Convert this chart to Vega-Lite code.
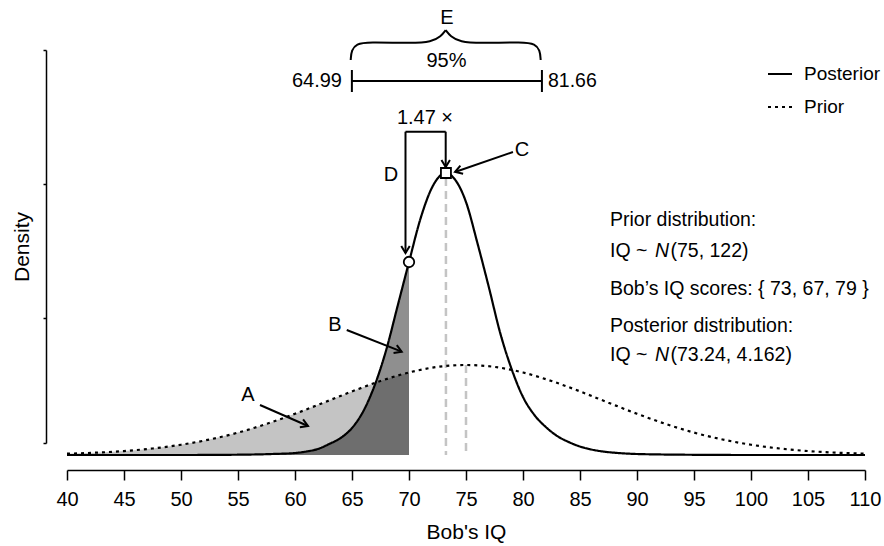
{
  "$schema": "https://vega.github.io/schema/vega-lite/v6.json",
  "width": 798,
  "height": 393,
  "autosize": {"type": "none"},
  "padding": {"left": 67, "top": 50, "right": 19, "bottom": 103},
  "background": "white",
  "config": {"view": {"stroke": null}, "font": "Liberation Sans"},
  "datasets": {
    "curves": [
      {"dist": "Posterior", "x": 40, "y": 0},
      {"dist": "Posterior", "x": 45, "y": 0},
      {"dist": "Posterior", "x": 50, "y": 0},
      {"dist": "Posterior", "x": 55, "y": 0.00011},
      {"dist": "Posterior", "x": 58, "y": 0.00038},
      {"dist": "Posterior", "x": 60, "y": 0.00076},
      {"dist": "Posterior", "x": 61, "y": 0.00134},
      {"dist": "Posterior", "x": 62, "y": 0.00229},
      {"dist": "Posterior", "x": 63, "y": 0.0042},
      {"dist": "Posterior", "x": 64, "y": 0.00649},
      {"dist": "Posterior", "x": 65, "y": 0.01031},
      {"dist": "Posterior", "x": 66, "y": 0.01679},
      {"dist": "Posterior", "x": 67, "y": 0.02672},
      {"dist": "Posterior", "x": 68, "y": 0.04008},
      {"dist": "Posterior", "x": 69, "y": 0.05687},
      {"dist": "Posterior", "x": 70, "y": 0.07366},
      {"dist": "Posterior", "x": 71, "y": 0.09008},
      {"dist": "Posterior", "x": 72, "y": 0.10191},
      {"dist": "Posterior", "x": 73, "y": 0.1074},
      {"dist": "Posterior", "x": 73.24, "y": 0.10763},
      {"dist": "Posterior", "x": 74, "y": 0.10534},
      {"dist": "Posterior", "x": 75, "y": 0.09656},
      {"dist": "Posterior", "x": 76, "y": 0.08092},
      {"dist": "Posterior", "x": 77, "y": 0.06412},
      {"dist": "Posterior", "x": 78, "y": 0.04656},
      {"dist": "Posterior", "x": 79, "y": 0.03282},
      {"dist": "Posterior", "x": 80, "y": 0.02214},
      {"dist": "Posterior", "x": 81, "y": 0.01527},
      {"dist": "Posterior", "x": 82, "y": 0.01069},
      {"dist": "Posterior", "x": 83, "y": 0.00725},
      {"dist": "Posterior", "x": 84, "y": 0.00496},
      {"dist": "Posterior", "x": 85, "y": 0.00324},
      {"dist": "Posterior", "x": 86, "y": 0.0021},
      {"dist": "Posterior", "x": 87, "y": 0.00134},
      {"dist": "Posterior", "x": 88, "y": 0.00088},
      {"dist": "Posterior", "x": 89, "y": 0.00057},
      {"dist": "Posterior", "x": 90, "y": 0.00038},
      {"dist": "Posterior", "x": 95, "y": 0.00008},
      {"dist": "Posterior", "x": 100, "y": 0},
      {"dist": "Posterior", "x": 110, "y": 0},
      {"dist": "Prior", "x": 40, "y": 0.00049},
      {"dist": "Prior", "x": 42.5, "y": 0.00088},
      {"dist": "Prior", "x": 45, "y": 0.00151},
      {"dist": "Prior", "x": 47.5, "y": 0.00248},
      {"dist": "Prior", "x": 50, "y": 0.00392},
      {"dist": "Prior", "x": 52.5, "y": 0.00592},
      {"dist": "Prior", "x": 55, "y": 0.00855},
      {"dist": "Prior", "x": 57.5, "y": 0.01187},
      {"dist": "Prior", "x": 60, "y": 0.01573},
      {"dist": "Prior", "x": 62.5, "y": 0.01996},
      {"dist": "Prior", "x": 65, "y": 0.02427},
      {"dist": "Prior", "x": 67.5, "y": 0.02824},
      {"dist": "Prior", "x": 70, "y": 0.03149},
      {"dist": "Prior", "x": 72.5, "y": 0.03363},
      {"dist": "Prior", "x": 75, "y": 0.03435},
      {"dist": "Prior", "x": 77.5, "y": 0.03363},
      {"dist": "Prior", "x": 80, "y": 0.03149},
      {"dist": "Prior", "x": 82.5, "y": 0.02824},
      {"dist": "Prior", "x": 85, "y": 0.02427},
      {"dist": "Prior", "x": 87.5, "y": 0.01996},
      {"dist": "Prior", "x": 90, "y": 0.01573},
      {"dist": "Prior", "x": 92.5, "y": 0.01187},
      {"dist": "Prior", "x": 95, "y": 0.00855},
      {"dist": "Prior", "x": 97.5, "y": 0.00592},
      {"dist": "Prior", "x": 100, "y": 0.00392},
      {"dist": "Prior", "x": 102.5, "y": 0.00248},
      {"dist": "Prior", "x": 105, "y": 0.00151},
      {"dist": "Prior", "x": 107.5, "y": 0.00088},
      {"dist": "Prior", "x": 110, "y": 0.00049}
    ],
    "segs": [
      {"part": "D1", "x": 69.693, "y": 0.0771, "x2": 69.693, "y2": 0.1234},
      {"part": "D2", "x": 69.693, "y": 0.1234, "x2": 73.219, "y2": 0.1234},
      {"part": "D3", "x": 73.219, "y": 0.1234, "x2": 73.219, "y2": 0.10992},
      {"part": "C", "x": 79.12, "y": 0.11565, "x2": 74.04, "y2": 0.10802},
      {"part": "B", "x": 64.54, "y": 0.04771, "x2": 69.36, "y2": 0.03943},
      {"part": "A", "x": 56.93, "y": 0.01908, "x2": 61.14, "y2": 0.01107},
      {"part": "CI", "x": 64.99, "y": 0.14275, "x2": 81.66, "y2": 0.14275},
      {"part": "CIL", "x": 64.99, "y": 0.13855, "x2": 64.99, "y2": 0.14695},
      {"part": "CIR", "x": 81.66, "y": 0.13855, "x2": 81.66, "y2": 0.14695}
    ],
    "brace": [
      {"side": "L", "x": 64.886, "y": 0.15076},
      {"side": "L", "x": 64.95, "y": 0.15458},
      {"side": "L", "x": 65.4, "y": 0.15688},
      {"side": "L", "x": 66.32, "y": 0.15764},
      {"side": "L", "x": 70.35, "y": 0.15714},
      {"side": "L", "x": 71.94, "y": 0.15763},
      {"side": "L", "x": 72.82, "y": 0.15984},
      {"side": "L", "x": 73.22, "y": 0.16218},
      {"side": "R", "x": 73.22, "y": 0.16218},
      {"side": "R", "x": 73.62, "y": 0.15984},
      {"side": "R", "x": 74.5, "y": 0.15763},
      {"side": "R", "x": 76.09, "y": 0.15714},
      {"side": "R", "x": 80.12, "y": 0.15764},
      {"side": "R", "x": 81.04, "y": 0.15688},
      {"side": "R", "x": 81.49, "y": 0.15458},
      {"side": "R", "x": 81.55, "y": 0.15076}
    ]
  },
  "encoding": {
    "x": {
      "field": "x",
      "type": "quantitative",
      "scale": {"domain": [40, 110], "nice": false, "zero": false},
      "axis": {
        "title": "Bob's IQ",
        "values": [40, 45, 50, 55, 60, 65, 70, 75, 80, 85, 90, 95, 100, 105, 110],
        "offset": 27,
        "grid": false,
        "domainColor": "black",
        "domainWidth": 1.5,
        "tickColor": "black",
        "tickWidth": 1.5,
        "tickSize": 10,
        "labelFont": "Liberation Sans",
        "labelFontSize": 20,
        "labelColor": "black",
        "labelPadding": 9,
        "labelFlush": false,
        "labelOverlap": false,
        "titleFont": "Liberation Sans",
        "titleFontSize": 21,
        "titleFontWeight": "normal",
        "titleColor": "black",
        "titlePadding": 12
      }
    },
    "y": {
      "field": "y",
      "type": "quantitative",
      "scale": {"domain": [0.00458, 0.15458], "nice": false, "zero": false},
      "axis": {
        "title": "Density",
        "values": [0.00458, 0.05229, 0.10344, 0.15458],
        "labels": false,
        "offset": 21,
        "grid": false,
        "domainColor": "black",
        "domainWidth": 1.5,
        "tickColor": "black",
        "tickWidth": 1.5,
        "tickSize": 3,
        "titleFont": "Liberation Sans",
        "titleFontSize": 21,
        "titleFontWeight": "normal",
        "titleColor": "black",
        "titlePadding": 10
      }
    }
  },
  "layer": [
    {
      "data": {"name": "curves"},
      "transform": [{"filter": "datum.dist === 'Prior' && datum.x <= 70"}],
      "mark": {"type": "area", "interpolate": "monotone", "color": "black", "opacity": 0.23},
      "encoding": {"y2": {"datum": 0}}
    },
    {
      "data": {"name": "curves"},
      "transform": [{"filter": "datum.dist === 'Posterior' && datum.x <= 70"}],
      "mark": {"type": "area", "interpolate": "monotone", "color": "black", "opacity": 0.44},
      "encoding": {"y2": {"datum": 0}}
    },
    {
      "data": {"values": [{"x": 73.24, "y": 0.1057}, {"x": 75, "y": 0.03435}]},
      "mark": {"type": "rule", "color": "#c4c4c4", "strokeWidth": 2.5, "strokeDash": [8, 5]},
      "encoding": {"y2": {"datum": 0}}
    },
    {
      "data": {"name": "curves"},
      "mark": {"type": "line", "interpolate": "monotone", "color": "black", "strokeWidth": 2.2},
      "encoding": {
        "strokeDash": {
          "field": "dist",
          "type": "nominal",
          "scale": {"domain": ["Posterior", "Prior"], "range": [[1, 0], [3, 4]]},
          "legend": {
            "title": null,
            "orient": "none",
            "legendX": 700,
            "legendY": 11,
            "padding": 0,
            "symbolType": "stroke",
            "symbolSize": 576,
            "symbolStrokeWidth": 2,
            "symbolStrokeColor": "black",
            "labelFont": "Liberation Sans",
            "labelFontSize": 19,
            "labelColor": "black",
            "labelOffset": 11,
            "rowPadding": 10
          }
        }
      }
    },
    {
      "data": {"name": "brace"},
      "mark": {"type": "line", "interpolate": "basis", "color": "black", "strokeWidth": 2},
      "encoding": {"detail": {"field": "side", "type": "nominal"}}
    },
    {
      "data": {"name": "segs"},
      "mark": {"type": "rule", "color": "black", "strokeWidth": 2},
      "encoding": {"x2": {"field": "x2"}, "y2": {"field": "y2"}}
    },
    {
      "data": {"values": [{"x": 73.24, "y": 0.10763}]},
      "mark": {"type": "point", "shape": "square", "size": 100, "filled": true, "fill": "white", "stroke": "black", "strokeWidth": 1.8, "opacity": 1}
    },
    {
      "data": {"values": [{"x": 70, "y": 0.07366}]},
      "mark": {"type": "point", "shape": "circle", "size": 110, "filled": true, "fill": "white", "stroke": "black", "strokeWidth": 1.8, "opacity": 1}
    },
    {
      "data": {"values": [{"x": 69.693, "y": 0.0771}, {"x": 73.219, "y": 0.10992}]},
      "mark": {"type": "point", "shape": "M -1 -0.6 L 0 0 L -1 0.6", "size": 200, "filled": false, "stroke": "black", "strokeWidth": 2, "opacity": 1, "angle": 90}
    },
    {
      "data": {"values": [{"x": 74.04, "y": 0.10802}]},
      "mark": {"type": "point", "shape": "M -1 -0.6 L 0 0 L -1 0.6", "size": 200, "filled": false, "stroke": "black", "strokeWidth": 2, "opacity": 1, "angle": 161}
    },
    {
      "data": {"values": [{"x": 69.36, "y": 0.03943}, {"x": 61.14, "y": 0.01107}]},
      "mark": {"type": "point", "shape": "M -1 -0.6 L 0 0 L -1 0.6", "size": 200, "filled": false, "stroke": "black", "strokeWidth": 2, "opacity": 1, "angle": 22.5}
    },
    {
      "data": {"values": [
        {"x": 73.33, "y": 0.16679, "text": "E"},
        {"x": 73.29, "y": 0.15038, "text": "95%"},
        {"x": 71.4, "y": 0.12863, "text": "1.47 ×"},
        {"x": 68.42, "y": 0.10687, "text": "D"},
        {"x": 79.91, "y": 0.11641, "text": "C"},
        {"x": 63.51, "y": 0.04962, "text": "B"},
        {"x": 55.88, "y": 0.0229, "text": "A"}
      ]},
      "mark": {"type": "text", "align": "center", "baseline": "middle", "font": "Liberation Sans", "fontSize": 20, "color": "black"},
      "encoding": {"text": {"field": "text"}}
    },
    {
      "data": {"values": [{"x": 64.12, "y": 0.14275, "text": "64.99"}]},
      "mark": {"type": "text", "align": "right", "baseline": "middle", "font": "Liberation Sans", "fontSize": 20, "color": "black"},
      "encoding": {"text": {"field": "text"}}
    },
    {
      "data": {"values": [
        {"x": 82.19, "y": 0.14275, "text": "81.66"},
        {"x": 87.63, "y": 0.08969, "text": "Prior distribution:"},
        {"x": 87.63, "y": 0.06336, "text": "Bob’s IQ scores: { 73, 67, 79 }"},
        {"x": 87.63, "y": 0.04924, "text": "Posterior distribution:"}
      ]},
      "mark": {"type": "text", "align": "left", "baseline": "middle", "font": "Liberation Sans", "fontSize": 19.5, "color": "black"},
      "encoding": {"text": {"field": "text"}}
    },
    {
      "data": {"values": [
        {"x": 87.63, "y": 0.07786, "text": "IQ ~"},
        {"x": 87.63, "y": 0.03817, "text": "IQ ~"}
      ]},
      "mark": {"type": "text", "align": "left", "baseline": "middle", "font": "Liberation Sans", "fontSize": 19.5, "color": "black"},
      "encoding": {"text": {"field": "text"}}
    },
    {
      "data": {"values": [
        {"x": 87.63, "y": 0.07786, "text": "N"},
        {"x": 87.63, "y": 0.03817, "text": "N"}
      ]},
      "mark": {"type": "text", "align": "left", "baseline": "middle", "font": "Liberation Sans", "fontSize": 19.5, "fontStyle": "italic", "color": "black", "dx": 45},
      "encoding": {"text": {"field": "text"}}
    },
    {
      "data": {"values": [
        {"x": 87.63, "y": 0.07786, "text": "(75, 122)"},
        {"x": 87.63, "y": 0.03817, "text": "(73.24, 4.162)"}
      ]},
      "mark": {"type": "text", "align": "left", "baseline": "middle", "font": "Liberation Sans", "fontSize": 19.5, "color": "black", "dx": 60.5},
      "encoding": {"text": {"field": "text"}}
    }
  ]
}
